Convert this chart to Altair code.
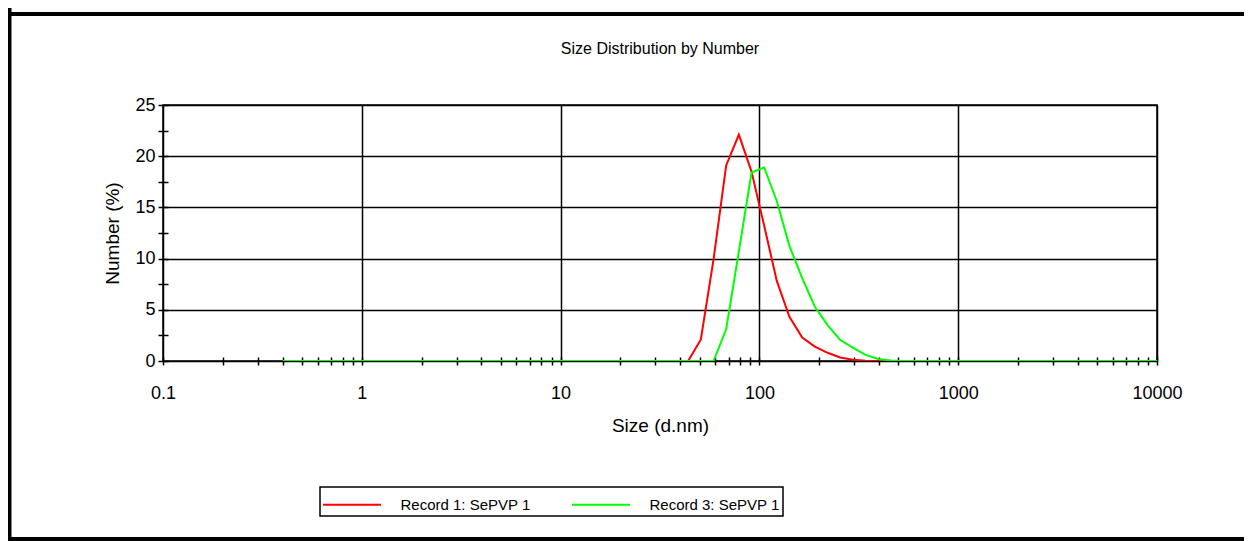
import altair as alt
import pandas as pd

# Size bins (d.nm)
sizes = [0.4, 0.4632, 0.5365, 0.6213, 0.7195, 0.8332, 0.9649, 1.117, 1.294, 1.499,
         1.736, 2.01, 2.328, 2.696, 3.122, 3.615, 4.187, 4.849, 5.615, 6.503,
         7.531, 8.721, 10.1, 11.7, 13.54, 15.69, 18.17, 21.04, 24.36, 28.21,
         32.67, 37.84, 43.82, 50.75, 58.77, 68.06, 78.82, 91.28, 105.7, 122.4,
         141.8, 164.2, 190.1, 220.2, 255.0, 295.3, 342.0, 396.1, 458.7, 531.2,
         615.1, 712.4, 825.0, 955.4, 1106, 1281, 1484, 1718, 1990, 2305,
         2669, 3091, 3580, 4145, 4801, 5560, 6439, 7456, 8635, 10000]

record1 = [0.0] * 33 + [2.1, 9.9, 19.1, 22.1, 18.5, 13.2, 7.8, 4.3, 2.3, 1.4,
                        0.8, 0.35, 0.12, 0.03] + [0.0] * 23
record3 = [0.0] * 35 + [3.1, 10.7, 18.4, 18.9, 15.6, 11.2, 8.1, 5.3, 3.5, 2.05,
                        1.3, 0.6, 0.2, 0.05] + [0.0] * 21

series_names = ["Record 1: SePVP 1", "Record 3: SePVP 1"]
series_colors = ["#ff0000", "#00ff00"]

x_decades = [0.1, 1, 10, 100, 1000, 10000]
x_decade_labels = ["0.1", "1", "10", "100", "1000", "10000"]
y_ticks = [0, 2.5, 5, 7.5, 10, 12.5, 15, 17.5, 20, 22.5, 25]

x_tick_values = [k * d for d in x_decades[:-1] for k in range(1, 10)] + [x_decades[-1]]

rows = []
for name, vals in zip(series_names, [record1, record3]):
    for s, v in zip(sizes, vals):
        rows.append({"size": s, "value": v, "series": name})
df = pd.DataFrame(rows)

FONT = "Liberation Sans"
W, H = 994, 256

decade_test = "indexof([" + ",".join(str(d) for d in x_decades) + "], datum.value) >= 0"
label_test = "indexof([" + ",".join("'" + l + "'" for l in x_decade_labels) + "], datum.label) >= 0 ? datum.label : ''"

lines = alt.Chart(df).mark_line(strokeWidth=2, clip=True).encode(
    x=alt.X("size:Q",
            scale=alt.Scale(type="log", domain=[0.1, 10000], nice=False),
            axis=alt.Axis(values=x_tick_values, format="~g", labelExpr=label_test,
                          domain=False, offset=-4, tickSize=8, tickWidth=1.5, tickColor="black",
                          grid=True, gridColor="black", gridWidth=1.5,
                          gridOpacity={"condition": {"test": decade_test, "value": 1}, "value": 0},
                          labelFont=FONT, labelFontSize=18, labelColor="black", labelPadding=19,
                          labelFlush=False,
                          title="Size (d.nm)", titleFont=FONT, titleFontSize=19,
                          titleFontWeight="normal", titleColor="black", titlePadding=14)),
    y=alt.Y("value:Q",
            scale=alt.Scale(domain=[0, 25], nice=False),
            axis=alt.Axis(values=y_ticks,
                          labelExpr="datum.value % 5 == 0 ? datum.label : ''",
                          domain=False, offset=-5, tickSize=10, tickWidth=1.5, tickColor="black",
                          grid=True, gridColor="black", gridWidth=1.5,
                          gridOpacity={"condition": {"test": "datum.value % 5 == 0", "value": 1}, "value": 0},
                          labelFont=FONT, labelFontSize=18, labelColor="black", labelPadding=3,
                          labelFlush=False,
                          title="Number (%)", titleFont=FONT, titleFontSize=19,
                          titleFontWeight="normal", titleColor="black", titlePadding=12)),
    color=alt.Color("series:N",
                    scale=alt.Scale(domain=series_names, range=series_colors),
                    legend=alt.Legend(title=None, orient="none", legendX=157, legendY=382,
                                      direction="horizontal", strokeColor="black", padding=3,
                                      symbolType="M-2.148,0H2.148", symbolSize=729,
                                      symbolStrokeWidth=2, symbolOffset=14.5,
                                      labelOffset=34, columnPadding=37,
                                      labelFont=FONT, labelFontSize=15, labelColor="black")),
)

frame_data = alt.Data(values=[{"k": 1}])
frame_top = alt.Chart(frame_data).mark_rule(color="black", strokeWidth=4).encode(
    x=alt.value(-155), x2=alt.value(1081), y=alt.value(-91))
frame_left = alt.Chart(frame_data).mark_rule(color="black", strokeWidth=5).encode(
    x=alt.value(-154), y=alt.value(-97), y2=alt.value(436))
frame_bottom = alt.Chart(frame_data).mark_rule(color="black", strokeWidth=4).encode(
    x=alt.value(-155), x2=alt.value(1081), y=alt.value(434))

chart = alt.layer(lines, frame_top, frame_left, frame_bottom).properties(
    width=W, height=H,
    title=alt.TitleParams("Size Distribution by Number", font=FONT, fontSize=16,
                          fontWeight="normal", color="black", anchor="middle", offset=-51),
    padding={"left": 155, "top": 97, "right": 87, "bottom": 180},
    autosize=alt.AutoSizeParams(type="none"),
).configure_view(stroke="black", strokeWidth=1.5).configure_legend(strokeWidth=1.5)

chart.save("out.html", embed_options={"renderer": "svg", "actions": False})
